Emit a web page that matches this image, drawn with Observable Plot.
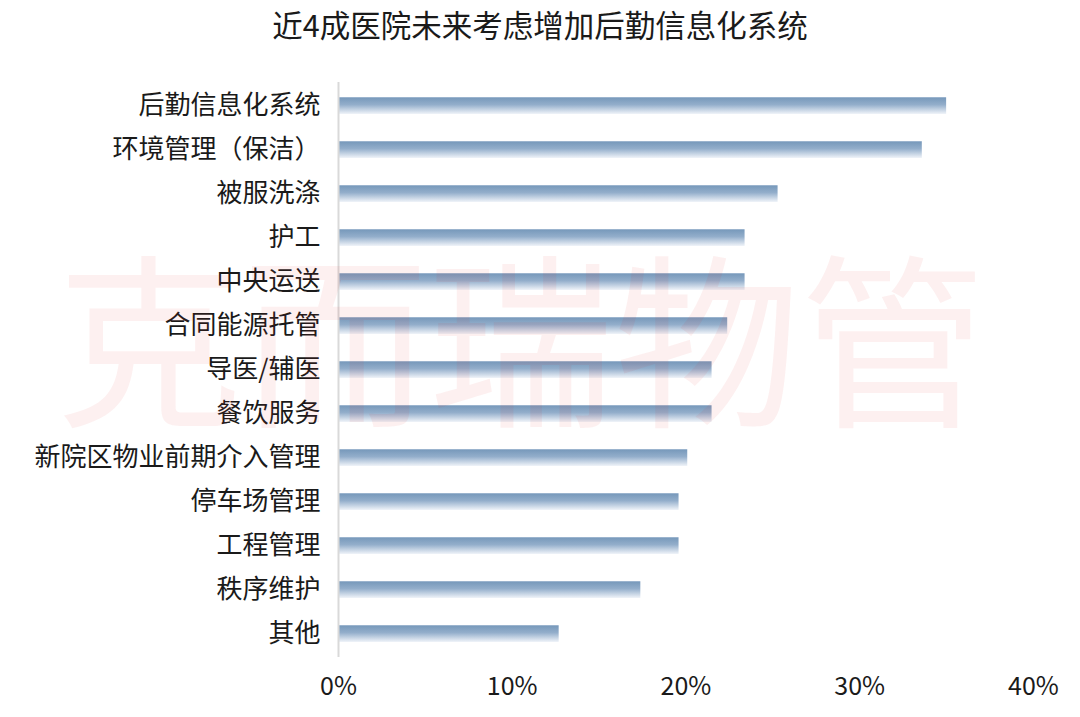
<!DOCTYPE html>
<html>
<head>
<meta charset="utf-8">
<script src="https://cdn.jsdelivr.net/npm/d3@7"></script>
<script src="https://cdn.jsdelivr.net/npm/@observablehq/plot@0.6"></script>
<style>
  html, body { margin: 0; padding: 0; background: #fff; }
  body { width: 1080px; height: 717px; overflow: hidden; font-family: "Noto Sans CJK SC", sans-serif; }
  #title { height: 56px; line-height: 48px; text-align: center; font-size: 30.5px; color: #1a1a1a; }
  svg { display: block; }
</style>
</head>
<body>
<div id="title">近4成医院未来考虑增加后勤信息化系统</div>
<div id="chart"></div>
<script>
const categories = ["后勤信息化系统", "环境管理（保洁）", "被服洗涤", "护工", "中央运送", "合同能源托管", "导医/辅医", "餐饮服务", "新院区物业前期介入管理", "停车场管理", "工程管理", "秩序维护", "其他"];
const values = [0.350, 0.336, 0.253, 0.234, 0.234, 0.224, 0.215, 0.215, 0.201, 0.196, 0.196, 0.174, 0.127];
const xTicks = [0, 0.1, 0.2, 0.3, 0.4];
const watermark = "克而瑞物管";

const data = categories.map((c, i) => ({category: c, value: values[i]}));

const chart = Plot.plot({
  width: 1080,
  height: 661,
  marginLeft: 338,
  marginRight: 47,
  marginTop: 26,
  marginBottom: 60,
  style: {fontFamily: "'Noto Sans CJK SC', sans-serif", background: "#fff", color: "#1a1a1a"},
  x: {domain: [0, 0.4], axis: null},
  y: {domain: categories, paddingInner: 0.62, paddingOuter: 0.31, axis: null},
  marks: [
    Plot.barX(data, {x: "value", y: "category", fill: "url(#barGrad)"}),
    Plot.ruleX([0], {stroke: "#d9d9d9", strokeWidth: 2}),
    Plot.axisY({tickSize: 0, tickPadding: 18, fontSize: 26, fill: "#1a1a1a", label: null}),
    Plot.axisX({ticks: xTicks, tickFormat: d3.format(".0%"), tickSize: 0, tickPadding: 20, fontSize: 25, fill: "#1a1a1a", label: null}),
    Plot.text([watermark], {frameAnchor: "middle", dx: -165, dy: -17, fontSize: 186, fill: "#e83030", fillOpacity: 0.07, textAnchor: "middle", lineAnchor: "middle"})
  ]
});

const ns = "http://www.w3.org/2000/svg";
const defs = document.createElementNS(ns, "defs");
const grad = document.createElementNS(ns, "linearGradient");
grad.setAttribute("id", "barGrad");
grad.setAttribute("x1", "0"); grad.setAttribute("y1", "0");
grad.setAttribute("x2", "0"); grad.setAttribute("y2", "1");
[["0", "#aec2d8"], ["0.08", "#7a9bbc"], ["0.45", "#93aecb"], ["1", "#f0f4f9"]].forEach(([o, c]) => {
  const s = document.createElementNS(ns, "stop");
  s.setAttribute("offset", o);
  s.setAttribute("stop-color", c);
  grad.appendChild(s);
});
defs.appendChild(grad);
chart.insertBefore(defs, chart.firstChild);
document.getElementById("chart").appendChild(chart);
</script>
</body>
</html>
